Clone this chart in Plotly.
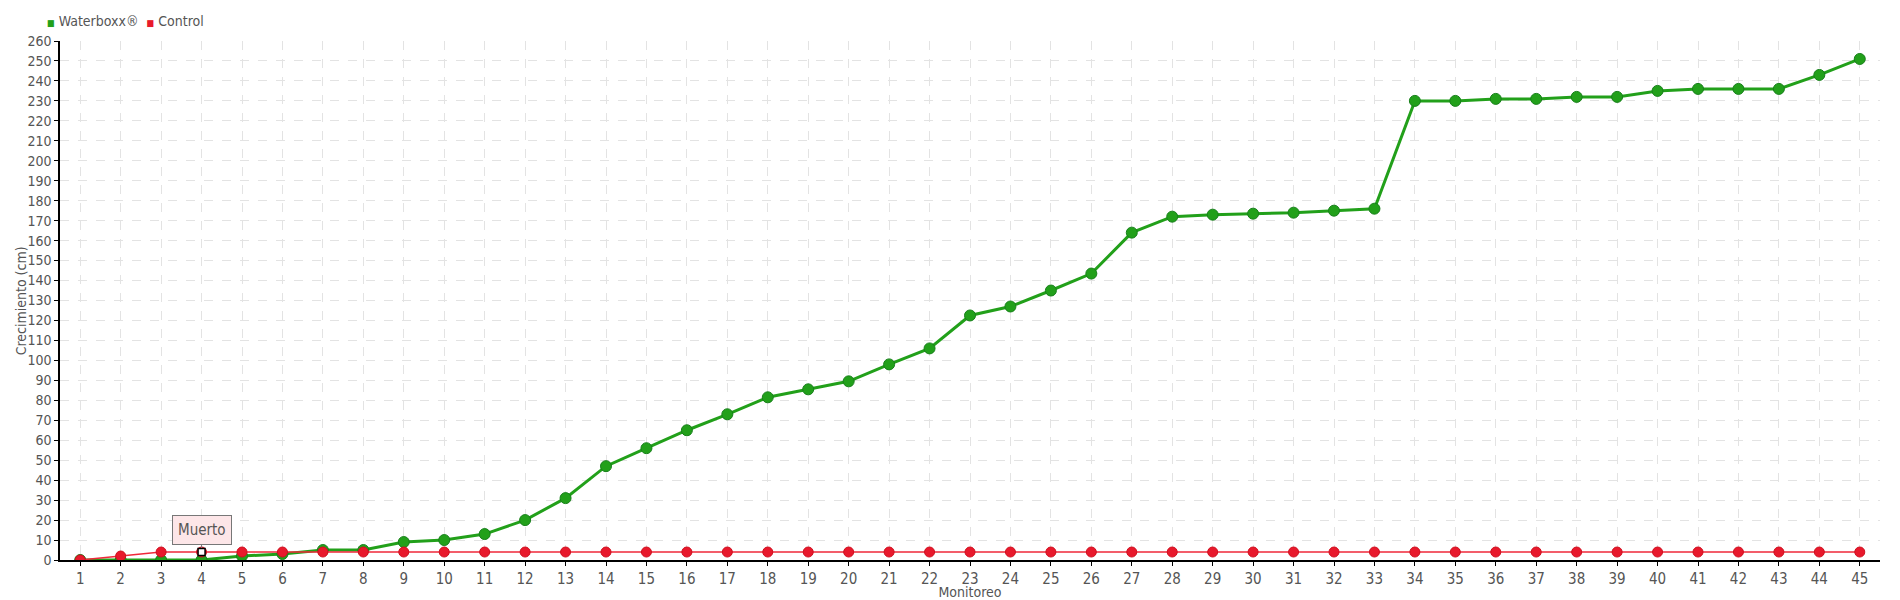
import plotly.graph_objects as go

monitoreo = list(range(1, 46))

waterboxx = [0, 0, 0, 0, 2, 3, 5, 5, 9, 10,
             13, 20, 31, 47, 56, 65, 73, 81.5, 85.5, 89.5,
             98, 106, 122.5, 127, 135, 143.5, 164, 172, 173, 173.5,
             174, 175, 176, 230, 230, 231, 231, 232, 232, 235,
             236, 236, 236, 243, 251]

control = [0, 2] + [4] * 43

muerto_x = 4
muerto_y = control[3]

FONT = "DejaVu Sans Condensed, Liberation Sans Narrow, sans-serif"
GREEN = "#22a01a"
RED = "#e8192c"

fig = go.Figure()

fig.add_trace(go.Scatter(
    x=monitoreo, y=waterboxx, mode="lines+markers", name="Waterboxx®",
    line=dict(color=GREEN, width=3),
    marker=dict(color=GREEN, size=11, line=dict(color="#17801a", width=1)),
    hoverinfo="x+y"
))

fig.add_trace(go.Scatter(
    x=monitoreo, y=control, mode="lines+markers", name="Control",
    line=dict(color="#f0283a", width=1.5),
    marker=dict(color=RED, size=10, line=dict(color="#d0101f", width=1)),
    hoverinfo="x+y"
))

# punto marcado como muerto
fig.add_trace(go.Scatter(
    x=[muerto_x], y=[muerto_y], mode="markers",
    marker=dict(symbol="square", color="white", size=7,
                line=dict(color="black", width=1.5)),
    hoverinfo="skip"
))

fig.add_annotation(
    x=muerto_x, y=muerto_y, text="Muerto",
    showarrow=True, arrowhead=0, arrowwidth=1, arrowcolor="#777",
    ax=0, ay=-22, standoff=4,
    bgcolor="#fde6e8", bordercolor="#777", borderwidth=1, borderpad=5,
    font=dict(family=FONT, size=15, color="#555")
)

# leyenda simple arriba a la izquierda
fig.add_annotation(
    xref="paper", yref="paper", x=-0.0138, y=1.0, yshift=20, xshift=10,
    xanchor="left", yanchor="middle", showarrow=False,
    text=("<span style='color:%s;font-size:9px'>■</span> Waterboxx®  "
          "<span style='color:%s;font-size:9px'>■</span> Control") % (GREEN, RED),
    font=dict(family=FONT, size=14, color="#555")
)

# titulo del eje y
fig.add_annotation(
    xref="paper", yref="paper", x=-0.0215, y=0.5,
    xanchor="center", yanchor="middle", showarrow=False, textangle=-90,
    text="Crecimiento (cm)", font=dict(family=FONT, size=14, color="#555")
)

fig.update_layout(
    width=1892, height=592,
    margin=dict(l=52, r=20, t=33, b=40, autoexpand=False),
    plot_bgcolor="white", paper_bgcolor="white",
    font=dict(family=FONT, size=14, color="#555"),
    showlegend=False,
)

fig.update_xaxes(
    range=[0.5, 45.5], tickmode="array", tickvals=monitoreo,
    ticktext=[str(v) for v in monitoreo],
    showline=True, linecolor="black", linewidth=1.5,
    ticks="outside", ticklen=4, tickcolor="black",
    showgrid=True, gridcolor="#e3e3e3", griddash="dash", gridwidth=1,
    zeroline=False,
    title=dict(text="Monitoreo", standoff=0, font=dict(size=14, color="#555")),
    tickfont=dict(size=15, color="#555")
)

fig.update_yaxes(
    range=[0, 260], dtick=10,
    showline=True, linecolor="black", linewidth=1.5,
    ticks="outside", ticklen=4, tickcolor="black",
    showgrid=True, gridcolor="#e3e3e3", griddash="dash", gridwidth=1,
    zeroline=False,
    tickfont=dict(size=14, color="#555")
)

fig.write_html("out.html")
